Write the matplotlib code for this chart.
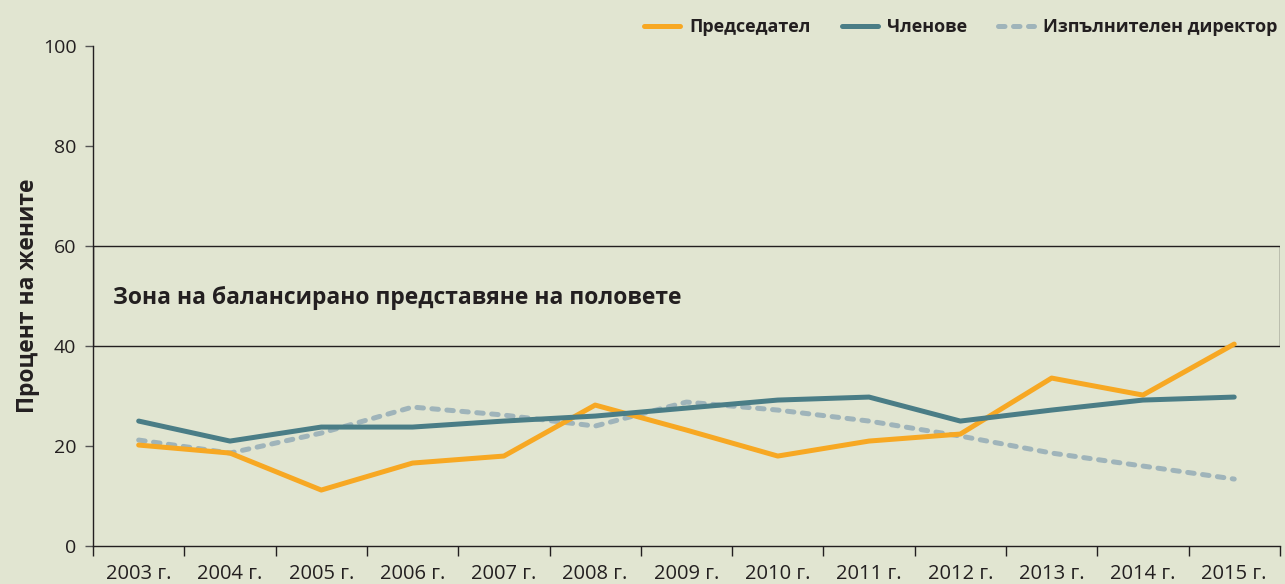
import matplotlib.pyplot as plt
from matplotlib.patches import Rectangle

# Данни
godini = ["2003 г.", "2004 г.", "2005 г.", "2006 г.", "2007 г.", "2008 г.", "2009 г.",
          "2010 г.", "2011 г.", "2012 г.", "2013 г.", "2014 г.", "2015 г."]
predsedatel = [20.2, 18.6, 11.2, 16.6, 18.0, 28.2, 23.2, 18.0, 21.0, 22.4, 33.6, 30.2, 40.4]
chlenove = [25.0, 21.0, 23.8, 23.8, 25.0, 26.0, 27.6, 29.2, 29.8, 25.0, 27.2, 29.2, 29.8]
direktor = [21.2, 18.6, 22.6, 27.8, 26.2, 24.0, 28.8, 27.2, 25.0, 22.0, 18.6, 16.0, 13.4]

plt.rcParams['font.family'] = ['Open Sans', 'DejaVu Sans']
bg = "#e1e5d1"
txt = "#231f20"

fig = plt.figure(figsize=(12.85, 5.84), dpi=100, facecolor=bg)
ax = fig.add_axes([0.0724, 0.065, 0.9236, 0.856], facecolor=bg)

x = list(range(len(godini)))

# Зона на балансирано представяне
ax.add_patch(Rectangle((-0.5, 40), len(godini), 20, fill=False, edgecolor=txt, linewidth=1.0, zorder=1))
ax.text(-0.28, 49.6, "Зона на балансирано представяне на половете", fontsize=16.5, fontweight="bold",
        color=txt, va="center", ha="left")

ax.plot(x, predsedatel, color="#f7a823", linewidth=3.6, solid_capstyle="round", label="Председател", zorder=3)
ax.plot(x, chlenove, color="#4a7d86", linewidth=3.6, solid_capstyle="round", label="Членове", zorder=3)
ax.plot(x, direktor, color="#9fb4ba", linewidth=3.6, dashes=(1.3, 1.7), dash_capstyle="round",
        label="Изпълнителен директор", zorder=2)

ax.set_xlim(-0.5, len(godini) - 0.5)
ax.set_ylim(0, 100)
ax.set_yticks([0, 20, 40, 60, 80, 100])
ax.set_xticks(x)
ax.set_xticklabels(godini)
ax.set_xticks([i - 0.5 for i in range(len(godini) + 1)], minor=True)
ax.tick_params(axis="x", which="major", length=0, pad=13, labelsize=14.5, colors=txt)
ax.tick_params(axis="x", which="minor", length=7, width=1, direction="out", color=txt)
ax.tick_params(axis="y", length=6, width=1, pad=6, labelsize=14, colors=txt)
ax.tick_params(axis="y", color="#555555")

for s in ["top", "right"]:
    ax.spines[s].set_visible(False)
for s in ["left", "bottom"]:
    ax.spines[s].set_color(txt)
    ax.spines[s].set_linewidth(1.0)

ax.set_ylabel("Процент на жените", fontsize=16.5, fontweight="bold", color=txt, va="center")
ax.yaxis.set_label_coords(-0.055, 0.5)

leg = ax.legend(loc="lower right", bbox_to_anchor=(1.006, 1.0), ncol=3, frameon=False,
                fontsize=13, handlelength=2.0, columnspacing=1.7, handletextpad=0.5, borderaxespad=0.15)
for t in leg.get_texts():
    t.set_fontweight("bold")
    t.set_color(txt)

plt.savefig("out.png", dpi=100, facecolor=bg)
